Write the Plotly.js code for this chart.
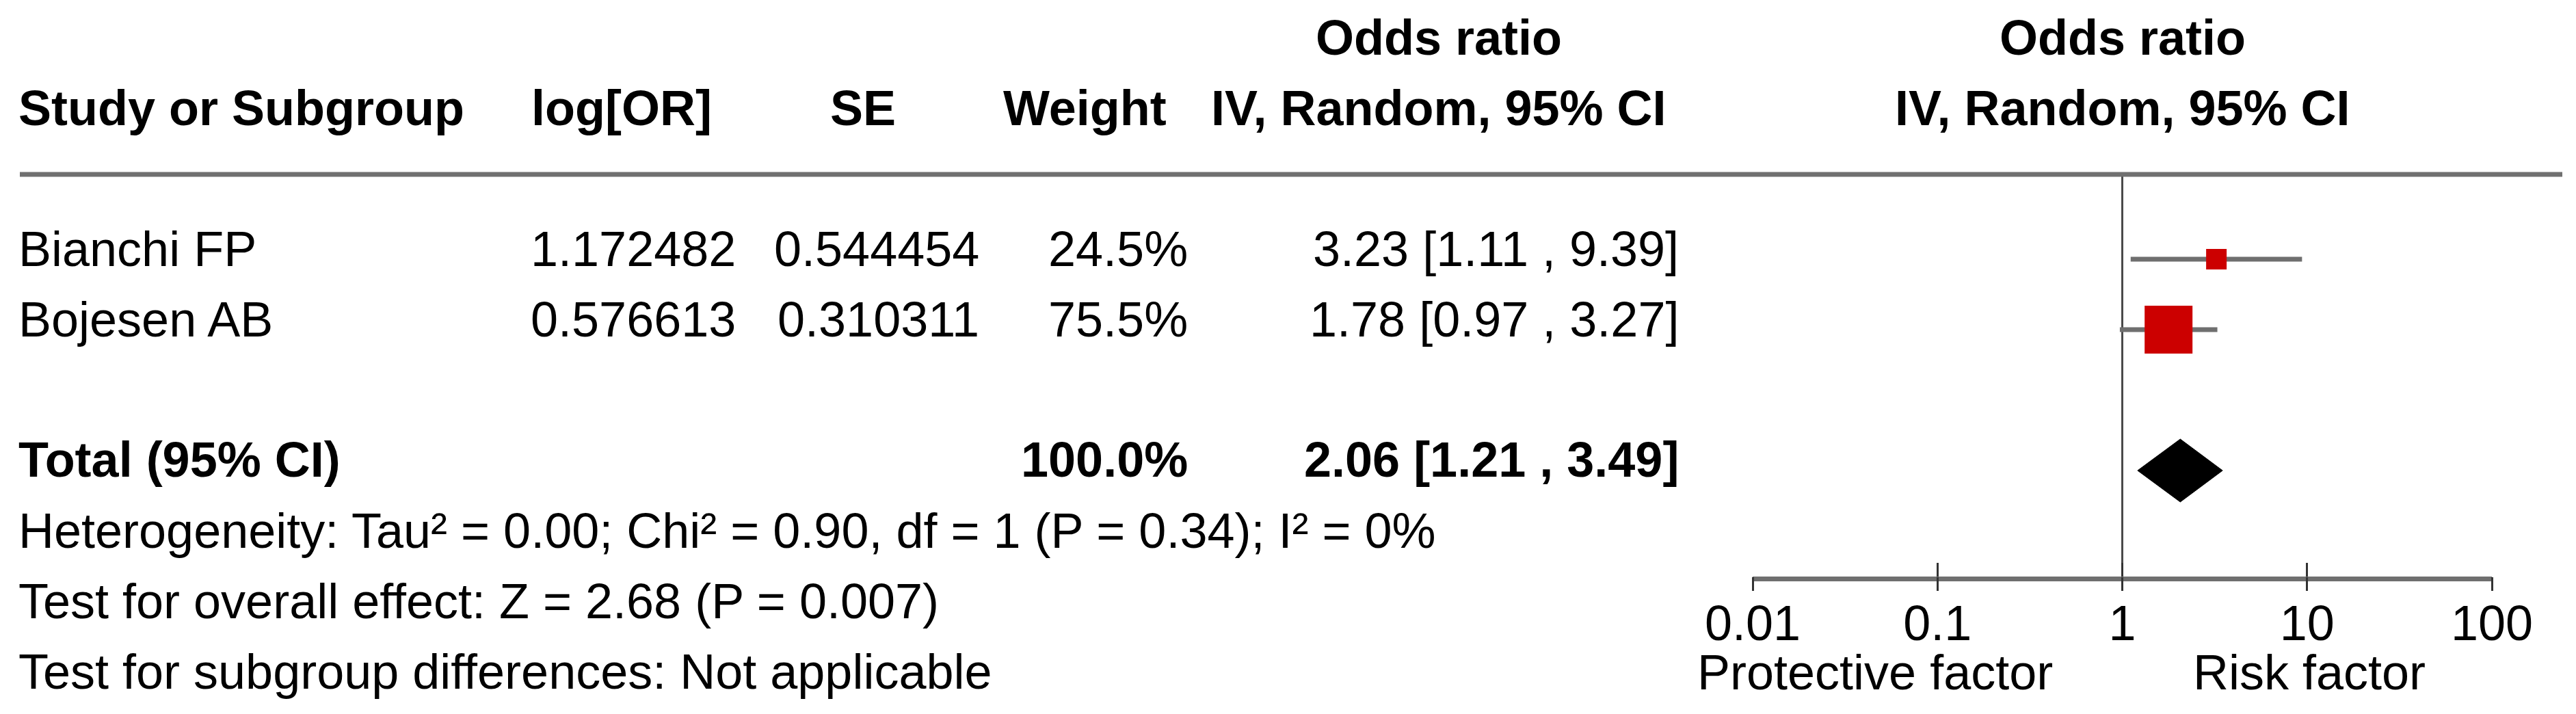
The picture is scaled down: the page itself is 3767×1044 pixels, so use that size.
<!DOCTYPE html>
<html>
<head>
<meta charset="utf-8">
<script src="https://cdn.plot.ly/plotly-3.0.1.min.js"></script>
<style>html,body{margin:0;padding:0;background:#fff;}#chart{width:3767px;height:1044px;}</style>
</head>
<body>
<div id="chart"></div>
<script>
// ---------- data ----------
const studies  = ['Bianchi FP', 'Bojesen AB'];
const logOR    = [1.172482, 0.576613];
const seVals   = [0.544454, 0.310311];
const weights  = [24.5, 75.5];
const orEst    = [3.23, 1.78];
const ciLow    = [1.11, 0.97];
const ciHigh   = [9.39, 3.27];
const totalWeight = 100.0;
const totalOR   = 2.06;
const totalLow  = 1.21;
const totalHigh = 3.49;
const tickVals   = [0.01, 0.1, 1, 10, 100];
const tickLabels = ['0.01', '0.1', '1', '10', '100'];
const footLines = [
  'Heterogeneity: Tau\u00B2 = 0.00; Chi\u00B2 = 0.90, df = 1 (P = 0.34); I\u00B2 = 0%',
  'Test for overall effect: Z = 2.68 (P = 0.007)',
  'Test for subgroup differences: Not applicable'
];
const sideLabels = ['Protective factor', 'Risk factor'];
const headerCols = ['Study or Subgroup', 'log[OR]', 'SE', 'Weight', 'IV, Random, 95% CI'];
const groupTitle = 'Odds ratio';
const methodTitle = 'IV, Random, 95% CI';
const totalLabel = 'Total (95% CI)';

// ---------- layout constants (pixels) ----------
const W = 3767, H = 1044;
const FONT = 'Liberation Sans, Arial, Helvetica, sans-serif';
const FS = 72;
const axisY = 843;           // pixel row of the OR axis
const headLineY = 255;
const rowTop = 379, rowStep = 103;
const totalY = 688, diamondHalf = 46;
const LEFT = 25;
const px = x => x / W;
const py = y => 1 - y / H;

const fmt2 = v => v.toFixed(2);
const ciText = (o, l, h) => fmt2(o) + ' [' + fmt2(l) + ' , ' + fmt2(h) + ']';

// ---------- traces ----------
const traces = [];
// null line at OR = 1
traces.push({x: [1, 1], y: [headLineY, axisY], mode: 'lines', xaxis: 'x', yaxis: 'y',
  line: {color: '#4a4a4a', width: 3}, hoverinfo: 'skip', showlegend: false});
// CI whiskers
studies.forEach((s, i) => {
  const yy = rowTop + i * rowStep;
  traces.push({x: [ciLow[i], ciHigh[i]], y: [yy, yy], mode: 'lines', xaxis: 'x', yaxis: 'y',
    line: {color: '#6f6f6f', width: 7}, hoverinfo: 'skip', showlegend: false});
});
// squares (size from weight)
traces.push({
  x: orEst, y: studies.map((s, i) => rowTop + i * rowStep), mode: 'markers', xaxis: 'x', yaxis: 'y',
  marker: {symbol: 'square', color: '#cc0000', opacity: 1, size: weights.map(w => 10.8 + 0.784 * w), line: {width: 0}},
  hoverinfo: 'skip', showlegend: false
});
// total diamond
traces.push({
  x: [totalLow, totalOR, totalHigh, totalOR, totalLow],
  y: [totalY, totalY - diamondHalf, totalY, totalY + diamondHalf, totalY],
  mode: 'lines', fill: 'toself', fillcolor: '#000', line: {color: '#000', width: 1},
  xaxis: 'x', yaxis: 'y', hoverinfo: 'skip', showlegend: false
});
// dummy traces for tick-only axes
traces.push({x: [1], y: [axisY], xaxis: 'x2', yaxis: 'y', mode: 'markers',
  marker: {opacity: 0}, hoverinfo: 'skip', showlegend: false});
traces.push({x: [1], y: [axisY], xaxis: 'x3', yaxis: 'y', mode: 'markers',
  marker: {opacity: 0}, hoverinfo: 'skip', showlegend: false});

// ---------- annotations ----------
const ann = [];
function txt(text, x, y, xanchor, bold) {
  ann.push({text: bold ? '<b>' + text + '</b>' : text, xref: 'paper', yref: 'paper',
    x: px(x), y: py(y), xanchor: xanchor, yanchor: 'middle', showarrow: false,
    font: {family: FONT, size: FS, color: '#000'}});
}
// headers
txt(groupTitle, 2104, 55, 'center', true);
txt(groupTitle, 3104, 55, 'center', true);
txt(headerCols[0], LEFT, 158, 'left', true);
txt(headerCols[1], 775, 158, 'left', true);
txt(headerCols[2], 1212, 158, 'left', true);
txt(headerCols[3], 1465, 158, 'left', true);
txt(headerCols[4], 2104, 158, 'center', true);
txt(methodTitle, 3104, 158, 'center', true);
// study rows
studies.forEach((s, i) => {
  const yy = 364 + i * rowStep;
  txt(s, LEFT, yy, 'left', false);
  txt(logOR[i].toFixed(6), 1078, yy, 'right', false);
  txt(seVals[i].toFixed(6), 1434, yy, 'right', false);
  txt(weights[i].toFixed(1) + '%', 1739, yy, 'right', false);
  txt(ciText(orEst[i], ciLow[i], ciHigh[i]), 2457, yy, 'right', false);
});
// total row
txt(totalLabel, LEFT, 672, 'left', true);
txt(totalWeight.toFixed(1) + '%', 1739, 672, 'right', true);
txt(ciText(totalOR, totalLow, totalHigh), 2457, 672, 'right', true);
// footer
footLines.forEach((t, i) => txt(t, LEFT, 776 + i * rowStep, 'left', false));
// side labels
txt(sideLabels[0], 2742, 983, 'center', false);
txt(sideLabels[1], 3377, 983, 'center', false);

// ---------- layout ----------
const xdom = [px(2563), px(3644)];
const tickAxis = (ticks) => ({
  type: 'log', range: [-2, 2], domain: xdom, anchor: 'y', overlaying: 'x',
  showline: false, ticks: ticks, ticklen: 20, tickwidth: 3, tickcolor: '#333',
  tickmode: 'array', tickvals: tickVals, showticklabels: false,
  showgrid: false, zeroline: false, fixedrange: true
});
const layout = {
  width: W, height: H,
  margin: {l: 0, r: 0, t: 0, b: 0, pad: 0},
  paper_bgcolor: '#fff', plot_bgcolor: 'rgba(0,0,0,0)',
  showlegend: false,
  xaxis: {
    type: 'log', range: [-2, 2], domain: xdom, anchor: 'y',
    showline: true, linecolor: '#6f6f6f', linewidth: 7,
    ticks: '', tickmode: 'array', tickvals: tickVals, ticktext: tickLabels,
    tickfont: {family: FONT, size: FS, color: '#000'},
    showgrid: false, zeroline: false, fixedrange: true
  },
  xaxis2: tickAxis('inside'),
  xaxis3: tickAxis('outside'),
  yaxis: {
    domain: [py(axisY), 1], range: [axisY, 0], autorange: false,
    visible: false, showgrid: false, zeroline: false, fixedrange: true
  },
  shapes: [{
    type: 'line', xref: 'paper', yref: 'paper',
    x0: px(29), x1: px(3747), y0: py(headLineY), y1: py(headLineY),
    line: {color: '#707070', width: 7}
  }],
  annotations: ann
};

Plotly.newPlot('chart', traces, layout, {staticPlot: true, displayModeBar: false});
</script>
</body>
</html>
